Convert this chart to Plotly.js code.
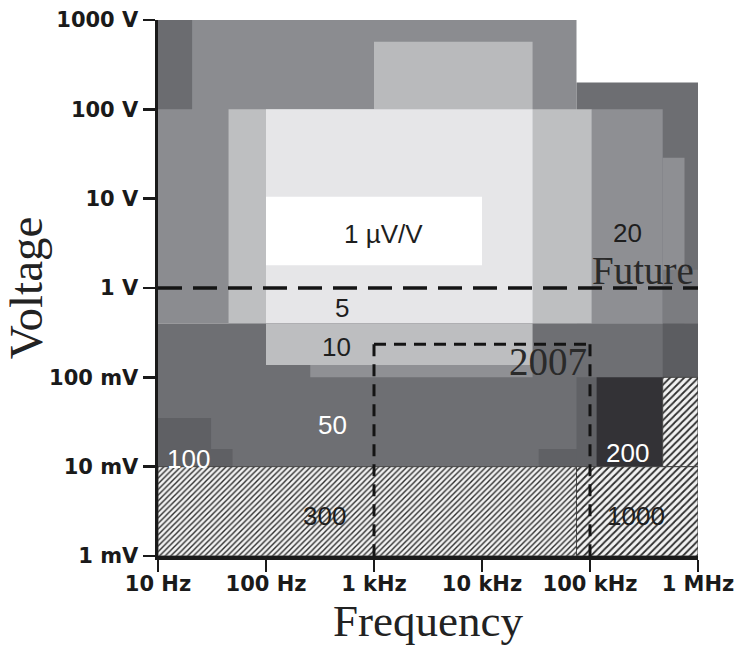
<!DOCTYPE html>
<html>
<head>
<meta charset="utf-8">
<script src="https://cdn.plot.ly/plotly-3.0.1.min.js"></script>
<style>html,body{margin:0;padding:0;background:#fff;}#chart{width:739px;height:651px;}</style>
</head>
<body>
<div id="chart"></div>
<script>
// ---- axis ticks ----
const freqTicks = [10, 100, 1e3, 1e4, 1e5, 1e6];
const freqTickText = ['10 Hz', '100 Hz', '1 kHz', '10 kHz', '100 kHz', '1 MHz'];
const voltTicks = [0.001, 0.01, 0.1, 1, 10, 100, 1000];
const voltTickText = ['1 mV', '10 mV', '100 mV', '1 V', '10 V', '100 V', '1000 V'];

// ---- uncertainty regions (Hz, V), painted in order ----
const regionFreqLo = [10,    75000, 10,   1000,  45,     100,   100,   104000, 471000, 471000, 10,   100,   257,   471000, 10,    10,     33500,  75000,  115000, 471000, 10,    75000];
const regionFreqHi = [75000, 1e6,   20.7, 29400, 104000, 29400, 10000, 471000, 750000, 1e6,    1e6,  29400, 29400, 1e6,    31,    49,     115000, 115000, 471000, 1e6,    75000, 1e6];
const regionVoltLo = [0.4,   0.4,   100,  100,   0.4,    0.4,   1.8,   0.4,    0.4,    0.4,    0.01, 0.137, 0.1,   0.1,    0.01,  0.01,   0.01,   0.01,   0.01,   0.01,   0.001, 0.001];
const regionVoltHi = [1000,  200,   1000, 570,   100,    100,   10.5,  100,    28.8,   1.6,    0.4,  0.4,   0.137, 0.4,    0.035, 0.0158, 0.0158, 0.1,    0.1,    0.1,    0.01,  0.01];
// styles (one per region)
const regionFill = ['#8b8c90','#6d6e72','#6b6c70','#b9babc','#bebfc1','#e6e6e8','#ffffff','#8e8f93','#8e8f93','#7b7c80',
                    '#6e6f73','#bdbec0','#8f9094','#5c5d61','#5f6064','#5f6064','#606165','#606165','#333236',
                    'hatchA','hatchB','hatchA'];

// ---- in-chart labels ----
const labelText = ['1 \u00B5V/V', '20', 'Future', '5', '10', '2007', '50', '100', '200', '300', '1000'];
const labelFreq = [1220, 224000, 309000, 501, 448, 40600, 411, 19.2, 224000, 351, 266000];
const labelVolt = [4.0, 4.1, 1.58, 0.6, 0.216, 0.149, 0.029, 0.0122, 0.0142, 0.0028, 0.0028];
const labelStyle = ['sans', 'sans', 'serif', 'sans', 'sans', 'serif', 'white', 'white', 'white', 'sans', 'sans'];

// ---- boundary lines ----
const futureLineFreq = [10, 1e6];
const futureLineVolt = [1, 1];
const box2007Freq = [1000, 1e5, null, 1000, 1000, null, 1e5, 1e5];
const box2007Volt = [0.234, 0.234, null, 0.234, 0.001, null, 0.234, 0.001];

const traces = [];
for (let i = 0; i < regionFreqLo.length; i++) {
  const f0 = regionFreqLo[i], f1 = regionFreqHi[i], v0 = regionVoltLo[i], v1 = regionVoltHi[i];
  const t = {
    type: 'scatter', mode: 'lines',
    x: [f0, f1, f1, f0, f0], y: [v0, v0, v1, v1, v0],
    fill: 'toself', hoverinfo: 'skip', showlegend: false,
    line: {width: 0, color: 'rgba(0,0,0,0)'}
  };
  const s = regionFill[i];
  if (s.startsWith('hatch')) {
    t.fillcolor = '#f2f2f2';
    t.fillpattern = {shape: '/', fgcolor: '#2e2e2e', bgcolor: '#f2f2f2',
                     size: s === 'hatchA' ? 5 : 4, solidity: 0.35};
    t.line = {width: 1, color: '#444'};
  } else {
    t.fillcolor = s;
  }
  traces.push(t);
}
traces.push({type: 'scatter', mode: 'lines', x: futureLineFreq, y: futureLineVolt,
  line: {color: '#141414', width: 3.5, dash: '24px,11px'}, hoverinfo: 'skip', showlegend: false});
traces.push({type: 'scatter', mode: 'lines', x: box2007Freq, y: box2007Volt, connectgaps: false,
  line: {color: '#141414', width: 3, dash: '12px,8px'}, hoverinfo: 'skip', showlegend: false});

const fonts = {
  sans:  {family: 'Liberation Sans, Arial, sans-serif', size: 26, color: '#1e1e1e'},
  white: {family: 'Liberation Sans, Arial, sans-serif', size: 26, color: '#ffffff'},
  serif: {family: 'Liberation Serif, Times New Roman, serif', size: 39, color: '#2a2a2a'}
};
const annotations = labelText.map((txt, i) => ({
  text: txt, x: Math.log10(labelFreq[i]), y: Math.log10(labelVolt[i]),
  xref: 'x', yref: 'y', showarrow: false, xanchor: 'center', yanchor: 'middle',
  font: fonts[labelStyle[i]]
}));

const tickFont = {family: 'DejaVu Sans, sans-serif', size: 21, weight: 'bold', color: '#1a1a1a'};
const layout = {
  width: 739, height: 651,
  margin: {l: 158, r: 41, t: 20, b: 95, pad: 0},
  paper_bgcolor: '#ffffff', plot_bgcolor: '#ffffff',
  showlegend: false,
  xaxis: {
    type: 'log', range: [1, 6], tickvals: freqTicks, ticktext: freqTickText,
    ticks: 'outside', ticklen: 12, tickwidth: 2.5, tickcolor: '#1a1a1a', ticklabelstandoff: -6,
    showline: true, linewidth: 3.5, linecolor: '#1a1a1a',
    showgrid: false, zeroline: false, tickfont: tickFont, fixedrange: true,
    title: {text: 'Frequency', font: {family: 'Liberation Serif, Times New Roman, serif', size: 45, color: '#222'}, standoff: 2}
  },
  yaxis: {
    type: 'log', range: [-3, 3], tickvals: voltTicks, ticktext: voltTickText,
    ticks: 'outside', ticklen: 12, tickwidth: 2.5, tickcolor: '#1a1a1a',
    showline: true, linewidth: 3.5, linecolor: '#1a1a1a',
    showgrid: false, zeroline: false, tickfont: tickFont, fixedrange: true,
    title: {text: 'Voltage', font: {family: 'Liberation Serif, Times New Roman, serif', size: 47, color: '#222'}, standoff: 0}
  },
  annotations: annotations
};
Plotly.newPlot('chart', traces, layout, {displayModeBar: false, staticPlot: true});
</script>
</body>
</html>
